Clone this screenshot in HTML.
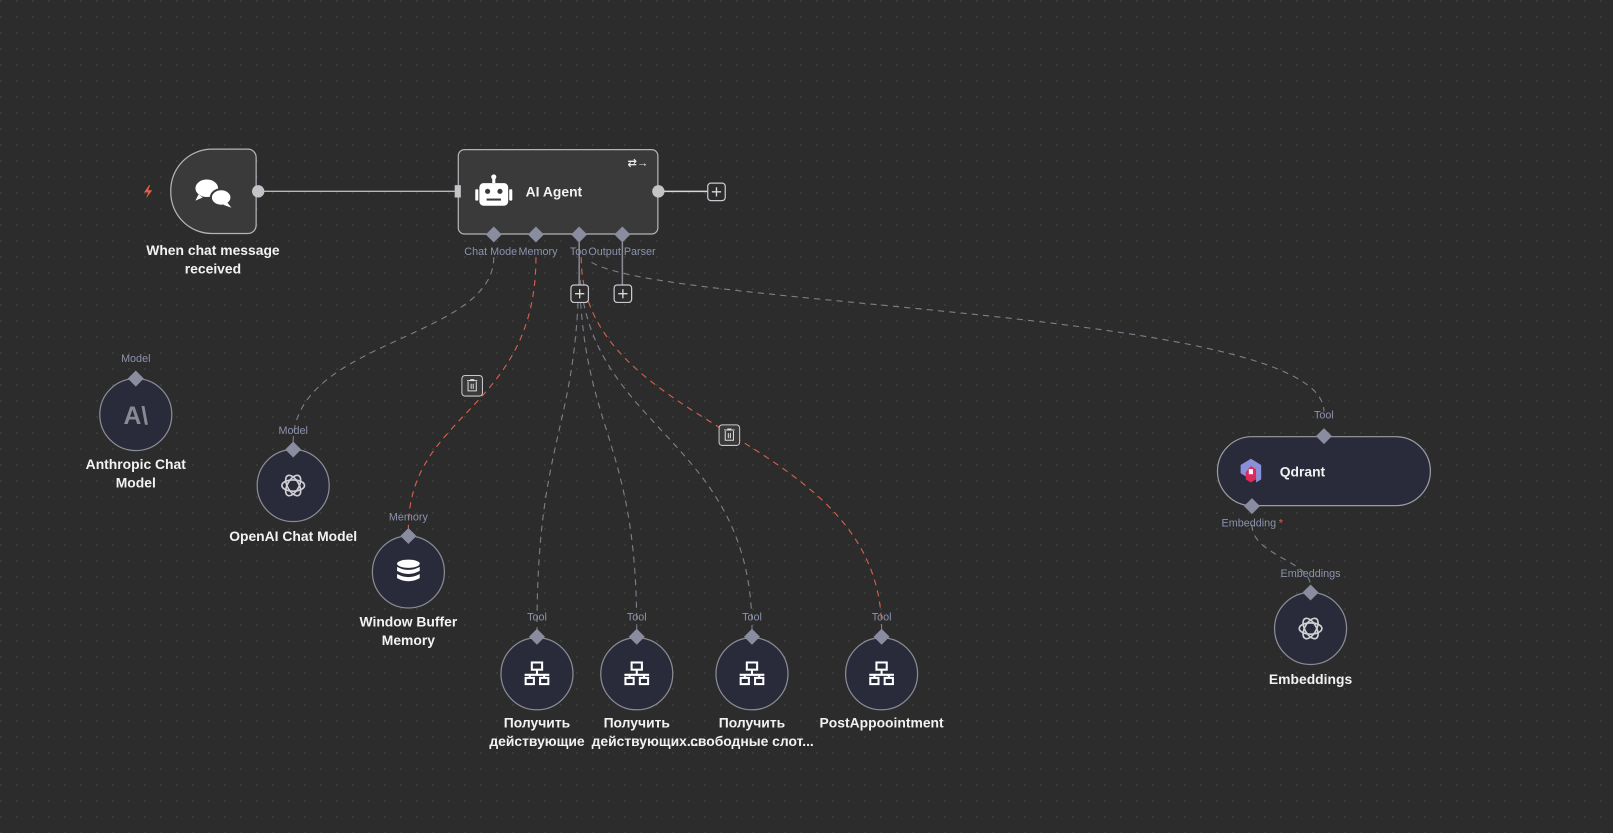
<!DOCTYPE html>
<html><head><meta charset="utf-8"><style>
html,body{margin:0;padding:0;background:#2b2c2b;width:1613px;height:833px;overflow:hidden}
svg{display:block;font-family:"Liberation Sans","DejaVu Sans",sans-serif}
.lbl{fill:#8d92ad;font-size:10.5px;text-anchor:middle}
.nm{fill:#f2f2f2;font-size:13.5px;font-weight:bold;text-anchor:middle}
.c{fill:#2a2b3a;stroke:#8a8c94;stroke-width:1.2}
.d{fill:#8a8c9f}
.g{fill:none;stroke:#7c7e88;stroke-width:1.1;stroke-dasharray:6 5}
.r{fill:none;stroke:#d6604a;stroke-width:1.1;stroke-dasharray:6 5}
.pb{fill:#2b2c2b;stroke:#c8c9ce;stroke-width:1.2}
.pl{stroke:#d8d8dc;stroke-width:1.3}
</style></head><body>
<svg width="1613" height="833" viewBox="0 0 1613 833">
<defs>
<pattern id="dots" width="16" height="16" patternUnits="userSpaceOnUse"><circle cx="1" cy="1" r="0.8" fill="#4a4b4a"/></pattern>
<g id="http"><g fill="none" stroke="#fff" stroke-width="2"><rect x="-5" y="-11" width="10" height="7"/><rect x="-11" y="4" width="8" height="6"/><rect x="3" y="4" width="8" height="6"/><path d="M0 -4V1M-12 1H12M-7 1V4M7 1V4"/></g></g>
<g id="oai"><g fill="none" stroke="#d0d0d4" stroke-width="1.6"><ellipse rx="11" ry="5.5"/><ellipse rx="11" ry="5.5" transform="rotate(60)"/><ellipse rx="11" ry="5.5" transform="rotate(120)"/></g></g>
<g id="dia"><rect x="-5.5" y="-5.5" width="11" height="11" transform="rotate(45)" class="d"/></g>
</defs>
<rect width="1613" height="833" fill="url(#dots)"/>
<g transform="scale(1.0287)">
<!-- connections -->
<line x1="251" y1="186" x2="442" y2="186" stroke="#b8b8bc" stroke-width="1.3"/>
<line x1="640" y1="186" x2="688" y2="186" stroke="#d8d8dc" stroke-width="1.5"/>
<line x1="563" y1="230" x2="563" y2="277" stroke="#8a8c94" stroke-width="1.5"/>
<line x1="605" y1="230" x2="605" y2="277" stroke="#8a8c94" stroke-width="1.5"/>
<path class="g" d="M480 250 C480 330 285 330 285 430"/>
<path class="r" d="M521 250 C521 400 397 400 397 514"/>
<path class="g" d="M563 250 C563 420 522 420 522 612"/>
<path class="g" d="M563 250 C563 420 619 420 619 612"/>
<path class="g" d="M563 250 C563 420 731 420 731 612"/>
<path class="r" d="M565 250 C565 420 857 420 857 612"/>
<path class="g" d="M575 255 C650 300 1287 300 1287 400"/>
<path class="g" d="M1217 510 C1217 540 1274 545 1274 570"/>

<!-- trigger -->
<path d="M145 180 l-5 7 h4 l-2 6 6 -8 h-4 l2 -5z" fill="#e0604a"/>
<path d="M206 145 H241 a8 8 0 0 1 8 8 V219 a8 8 0 0 1 -8 8 H206 a40 40 0 0 1 -40 -40 V185 a40 40 0 0 1 40 -40z" fill="#3a3a3b" stroke="#b4b4b8" stroke-width="1.2"/>
<g fill="#fff"><ellipse cx="201" cy="183" rx="11" ry="8.5"/><path d="M193 189 l-3 6 7 -3z"/><ellipse cx="215" cy="192" rx="10" ry="8" stroke="#3a3a3b" stroke-width="2"/><path d="M221 197 l4 5 -8 -3z"/></g>
<circle cx="251" cy="186" r="6" fill="#c4c4c8"/>
<text class="nm" x="207" y="248">When chat message</text>
<text class="nm" x="207" y="266">received</text>

<!-- AI agent -->
<rect x="445.5" y="145.5" width="194" height="82" rx="6" fill="#3a3a3b" stroke="#b4b4b8" stroke-width="1.2"/>
<rect x="442" y="180" width="6" height="12" fill="#c4c4c8"/>
<circle cx="640" cy="186" r="6" fill="#c4c4c8"/>
<g fill="#fff"><rect x="466" y="178" width="28" height="22" rx="4"/><rect x="462" y="184" width="3" height="11" rx="1"/><rect x="495" y="184" width="3" height="11" rx="1"/><rect x="478.5" y="172" width="3" height="6"/><circle cx="480" cy="172" r="2.5"/></g>
<g fill="#3a3a3b"><circle cx="474" cy="186" r="2.5"/><circle cx="486" cy="186" r="2.5"/><rect x="473" y="193" width="14" height="2"/></g>
<text x="511" y="191" fill="#f2f2f2" font-size="13.5" font-weight="bold">AI Agent</text>
<text x="610" y="162" fill="#e8e8ea" font-size="11" font-weight="bold">⇄→</text>
<use href="#dia" x="480" y="228"/><use href="#dia" x="521" y="228"/><use href="#dia" x="563" y="228"/><use href="#dia" x="605" y="228"/>
<text class="lbl" x="477" y="248">Chat Mode</text>
<text class="lbl" x="523" y="248">Memory</text>
<text x="554" y="248" fill="#8d92ad" font-size="10.5">Too</text>
<text x="572" y="248" fill="#8d92ad" font-size="10.5">Output Parser</text>
<rect class="pb" x="688" y="178" width="17" height="17" rx="3"/><path class="pl" d="M696.5 182v9M692 186.5h9"/>
<rect class="pb" x="555" y="277" width="17" height="17" rx="3"/><path class="pl" d="M563.5 281v9M559 285.5h9"/>
<rect class="pb" x="597" y="277" width="17" height="17" rx="3"/><path class="pl" d="M605.5 281v9M601 285.5h9"/>

<!-- trash icons -->
<g><rect x="449" y="365" width="20" height="20" rx="3" fill="#3a3a3b" stroke="#c8c9ce"/><path d="M454 370h10M457 369h4M455 371v9h8v-9M458 373v5M460 373v5" stroke="#ddd" fill="none"/></g>
<g><rect x="699" y="413" width="20" height="20" rx="3" fill="#3a3a3b" stroke="#c8c9ce"/><path d="M704 418h10M707 417h4M705 419v9h8v-9M708 421v5M710 421v5" stroke="#ddd" fill="none"/></g>

<!-- Anthropic -->
<text class="lbl" x="132" y="352">Model</text>
<circle class="c" cx="132" cy="403" r="35"/>
<use href="#dia" x="132" y="368"/>
<text x="132" y="412" text-anchor="middle" fill="#8a8a94" font-size="24" font-weight="bold">A\</text>
<text class="nm" x="132" y="456">Anthropic Chat</text>
<text class="nm" x="132" y="474">Model</text>

<!-- OpenAI chat -->
<text class="lbl" x="285" y="422">Model</text>
<circle class="c" cx="285" cy="472" r="35"/>
<use href="#dia" x="285" y="437"/>
<use href="#oai" x="285" y="472"/>
<text class="nm" x="285" y="526">OpenAI Chat Model</text>

<!-- Memory -->
<text class="lbl" x="397" y="506">Memory</text>
<circle class="c" cx="397" cy="556" r="35"/>
<use href="#dia" x="397" y="521"/>
<g fill="#fff"><ellipse cx="397" cy="548" rx="11" ry="4"/><path d="M386 551 q11 6 22 0 v4 q-11 6 -22 0z"/><path d="M386 558 q11 6 22 0 v4 q-11 6 -22 0z"/></g>
<text class="nm" x="397" y="609">Window Buffer</text>
<text class="nm" x="397" y="627">Memory</text>

<!-- tools -->
<g>
<text class="lbl" x="522" y="603">Tool</text><circle class="c" cx="522" cy="655" r="35"/><use href="#dia" x="522" y="619"/><use href="#http" x="522" y="655"/>
<text class="lbl" x="619" y="603">Tool</text><circle class="c" cx="619" cy="655" r="35"/><use href="#dia" x="619" y="619"/><use href="#http" x="619" y="655"/>
<text class="lbl" x="731" y="603">Tool</text><circle class="c" cx="731" cy="655" r="35"/><use href="#dia" x="731" y="619"/><use href="#http" x="731" y="655"/>
<text class="lbl" x="857" y="603">Tool</text><circle class="c" cx="857" cy="655" r="35"/><use href="#dia" x="857" y="619"/><use href="#http" x="857" y="655"/>
</g>
<text class="nm" x="522" y="707">Получить</text>
<text class="nm" x="619" y="707">Получить</text>
<text class="nm" x="731" y="707">Получить</text>
<text class="nm" x="857" y="707">PostAppoointment</text>
<text class="nm" x="522" y="725">действующие</text>
<text class="nm" x="627" y="725">действующих...</text>
<text class="nm" x="731" y="725">свободные слот...</text>

<!-- Qdrant -->
<text class="lbl" x="1287" y="407">Tool</text>
<rect x="1183.5" y="424.5" width="207" height="67" rx="33.5" fill="#2a2b3a" stroke="#9a9ca4" stroke-width="1.2"/>
<use href="#dia" x="1287" y="424"/>
<g><path d="M1206 452 l10 -6 10 6 v14 l-5 3 v-6 l-5 3 -10 -6z" fill="#8a90d8"/><path d="M1216 453 l5 3 v10 l-5 3 -5 -3 v-7z" fill="#dc2a5a"/><rect x="1214" y="456" width="4" height="5" fill="#fff"/></g>
<text x="1244" y="463" fill="#f2f2f2" font-size="13.5" font-weight="bold">Qdrant</text>
<use href="#dia" x="1217" y="492"/>
<text class="lbl" x="1214" y="512">Embedding</text><text x="1243" y="512" fill="#e0604a" font-size="11">*</text>

<text class="lbl" x="1274" y="561">Embeddings</text>
<circle class="c" cx="1274" cy="611" r="35"/>
<use href="#dia" x="1274" y="576"/>
<use href="#oai" x="1274" y="611"/>
<text class="nm" x="1274" y="665">Embeddings</text>
</g>
</svg>
</body></html>
